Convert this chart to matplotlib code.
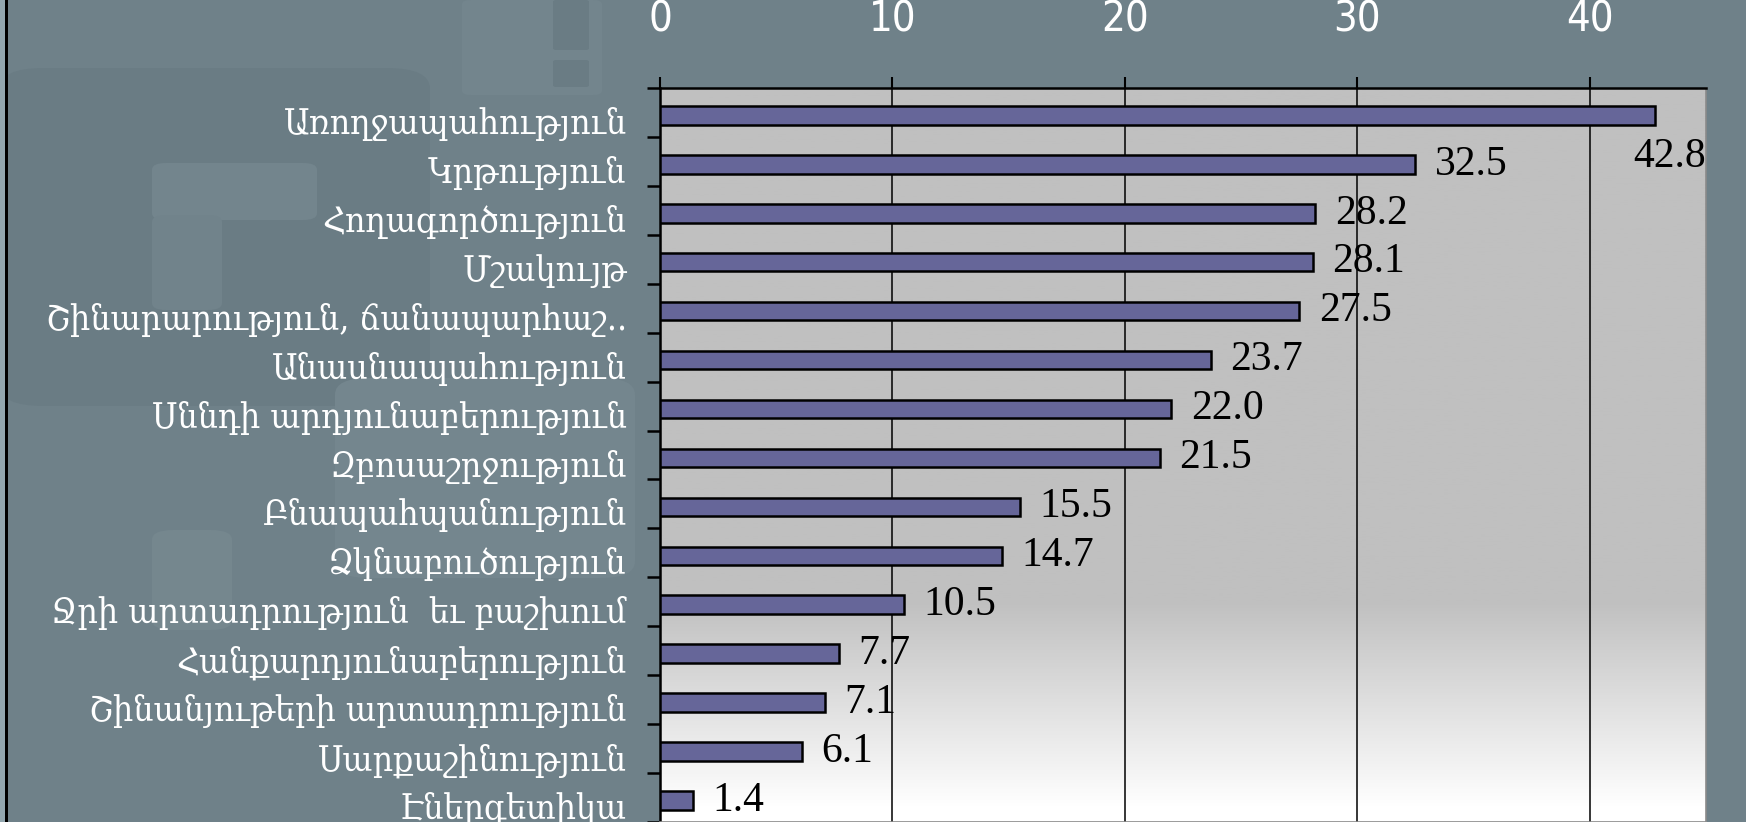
import numpy as np
import matplotlib.pyplot as plt
import matplotlib.transforms as mtransforms
from matplotlib.patches import FancyBboxPatch, Rectangle
from matplotlib.colors import LinearSegmentedColormap

categories = [
    'Առողջապահություն',
    'Կրթություն',
    'Հողագործություն',
    'Մշակույթ',
    'Շինարարություն, ճանապարհաշ..',
    'Անասնապահություն',
    'Սննդի արդյունաբերություն',
    'Զբոսաշրջություն',
    'Բնապահպանություն',
    'Ձկնաբուծություն',
    'Ջրի արտադրություն  եւ բաշխում',
    'Հանքարդյունաբերություն',
    'Շինանյութերի արտադրություն',
    'Սարքաշինություն',
    'Էներգետիկա',
]
values = [42.8, 32.5, 28.2, 28.1, 27.5, 23.7, 22.0, 21.5, 15.5, 14.7, 10.5, 7.7, 7.1, 6.1, 1.4]
xticks = [0, 10, 20, 30, 40]
xmax = 45

bg = '#6f8189'
W, H = 1746, 822
fig = plt.figure(figsize=(W / 100, H / 100), dpi=100)
fig.patch.set_facecolor(bg)

# faint shapes in the backdrop (pixel boxes measured from the top left)
def fpatch(x, y, w, h, color, r=0.02):
    p = FancyBboxPatch((x / W, 1 - (y + h) / H), w / W, h / H,
                       boxstyle='round,pad=0,rounding_size=%f' % r,
                       transform=fig.transFigure, facecolor=color,
                       edgecolor='none', zorder=-1)
    fig.patches.append(p)

fpatch(0, 68, 430, 338, '#6a7c84', 0.025)
fpatch(152, 163, 165, 57, '#73858d', 0.008)
fpatch(152, 215, 70, 95, '#71838b', 0.008)
fpatch(335, 378, 300, 200, '#74868e', 0.02)
fpatch(152, 530, 80, 100, '#75878e', 0.012)
fpatch(462, 0, 140, 95, '#73858d', 0.005)
fpatch(553, 0, 36, 50, '#6a7c84', 0.002)
fpatch(553, 60, 36, 27, '#6a7c84', 0.002)
fig.patches.append(Rectangle((0, 0), 5 / W, 1, transform=fig.transFigure,
                             facecolor='#93a7af', edgecolor='none', zorder=-1))
fig.patches.append(Rectangle((5 / W, 0), 3 / W, 1, transform=fig.transFigure,
                             facecolor='black', edgecolor='none', zorder=-1))

ax = fig.add_axes([660 / W, 0.0, 1046 / W, 1 - 88 / H])
n = len(categories)
y = np.arange(n)

# plot area: flat gray fading to white near the bottom
grad = np.linspace(0, 1, 400)
grad = np.clip((grad - 0.70) / 0.28, 0, 1)[:, None]
cmap = LinearSegmentedColormap.from_list('fade', ['#c0c0c0', '#ffffff'])
ax.imshow(grad, extent=[0, xmax, n - 0.5, -0.5], aspect='auto', cmap=cmap,
          vmin=0, vmax=1, zorder=0)

ax.barh(y + 0.06, values, height=0.38, color='#666699', edgecolor='black',
        linewidth=1.8, zorder=3)

ax.set_xlim(0, xmax)
ax.set_ylim(n - 0.5, -0.5)

ax.xaxis.tick_top()
ax.set_xticks(xticks)
ax.xaxis.grid(True, color='black', linewidth=1.1, zorder=1)
ax.tick_params(axis='x', direction='out', length=8, width=1.5, pad=26,
               labelsize=30, labelcolor='white', color='black')
for lab in ax.get_xticklabels():
    lab.set_family('DejaVu Sans')
    lab.set_fontstretch('condensed')

ax.set_yticks(np.arange(-0.5, n, 1))
ax.set_yticklabels([])
ax.set_yticks(y, minor=True)
ax.set_yticklabels(categories, minor=True)
ax.tick_params(axis='y', which='major', direction='out', length=9.5, width=1.8,
               color='black')
ax.tick_params(axis='y', which='minor', length=0, pad=24, labelsize=25.5,
               labelcolor='white')
shift = mtransforms.ScaledTranslation(0, -8 / 100, fig.dpi_scale_trans)
for lab in ax.get_yticklabels(minor=True):
    lab.set_family('DejaVu Serif')
    lab.set_fontstretch('condensed')
    lab.set_transform(lab.get_transform() + shift)

for s in ['top', 'left']:
    ax.spines[s].set_color('black')
    ax.spines[s].set_linewidth(1.8)
for s in ['right', 'bottom']:
    ax.spines[s].set_color('#8a8a8a')
    ax.spines[s].set_linewidth(1.2)

# value labels; the longest bar gets its label tucked under the bar end
for yi, v in zip(y, values):
    if v > xmax - 4:
        ax.text(xmax, yi + 0.9, f'{v:.1f}', ha='right', va='center',
                fontsize=30, family='Liberation Serif', color='black', zorder=4)
    else:
        ax.annotate(f'{v:.1f}', (v, yi + 0.06), xytext=(14, 0),
                    textcoords='offset points', ha='left', va='center',
                    fontsize=30, family='Liberation Serif', color='black',
                    zorder=4)

fig.savefig('out.png', dpi=100, facecolor=bg)
